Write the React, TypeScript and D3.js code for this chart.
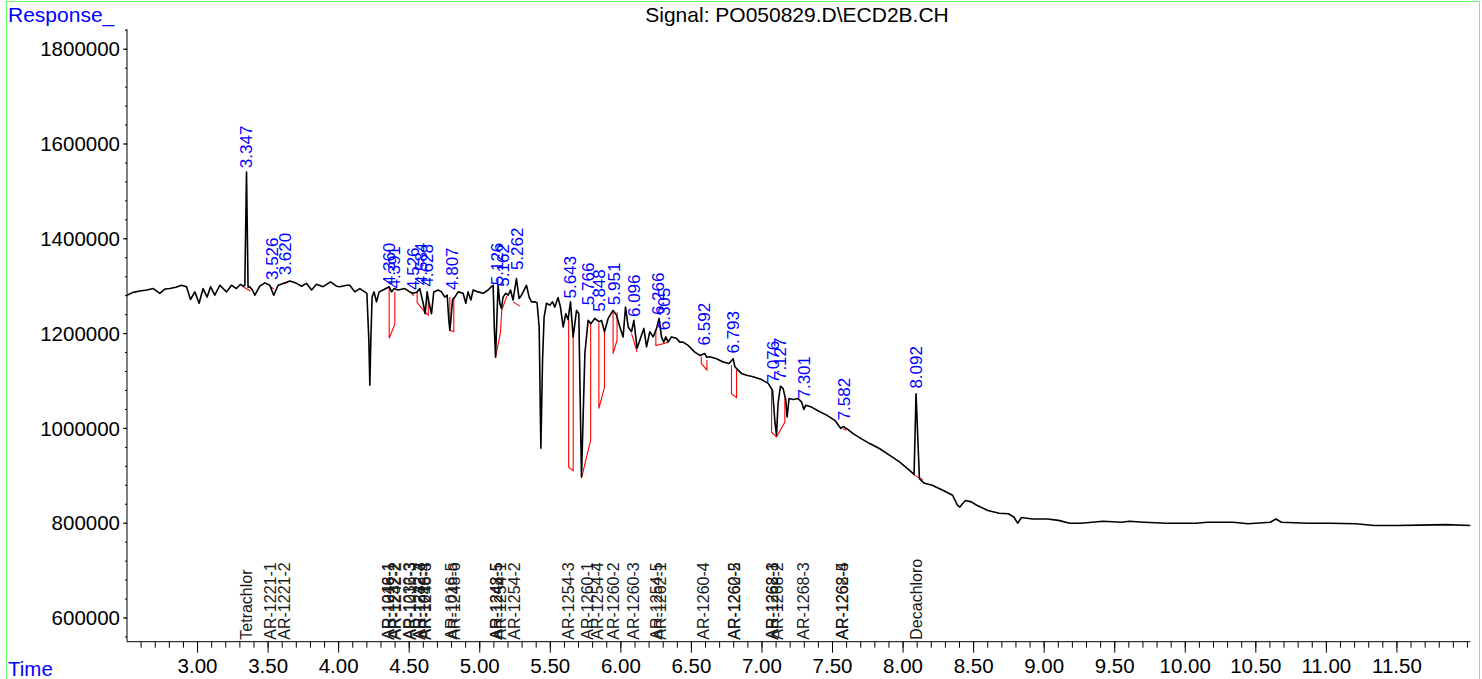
import React from 'react';
import * as d3 from 'd3';

// signal trace (minutes, response)
const traceTime = [
    2.500, 2.543, 2.592, 2.641, 2.686, 2.733, 2.768, 2.804, 2.846, 2.886, 2.922, 2.950, 2.981, 3.011, 3.039,
    3.068, 3.092, 3.122, 3.158, 3.205, 3.241, 3.276, 3.304, 3.323, 3.335, 3.347, 3.358, 3.370, 3.389, 3.406,
    3.441, 3.477, 3.512, 3.540, 3.571, 3.618, 3.654, 3.701, 3.737, 3.772, 3.808, 3.843, 3.890, 3.942, 3.985,
    4.008, 4.056, 4.079, 4.114, 4.150, 4.185, 4.200, 4.214, 4.221, 4.228, 4.237, 4.251, 4.268, 4.287, 4.315,
    4.358, 4.375, 4.393, 4.421, 4.469, 4.504, 4.528, 4.556, 4.575, 4.599, 4.613, 4.627, 4.641, 4.658, 4.674,
    4.705, 4.729, 4.752, 4.769, 4.781, 4.788, 4.795, 4.807, 4.823, 4.847, 4.882, 4.901, 4.917, 4.937, 4.953,
    4.988, 5.024, 5.059, 5.083, 5.095, 5.103, 5.112, 5.121, 5.130, 5.142, 5.154, 5.165, 5.185, 5.201, 5.218,
    5.236, 5.260, 5.279, 5.296, 5.319, 5.331, 5.350, 5.367, 5.390, 5.406, 5.421, 5.433, 5.445, 5.456, 5.473,
    5.496, 5.516, 5.532, 5.555, 5.572, 5.591, 5.610, 5.626, 5.643, 5.662, 5.686, 5.702, 5.721, 5.745, 5.768,
    5.787, 5.815, 5.846, 5.863, 5.884, 5.910, 5.945, 5.969, 5.993, 6.016, 6.033, 6.052, 6.076, 6.092, 6.115,
    6.142, 6.163, 6.182, 6.205, 6.229, 6.253, 6.271, 6.288, 6.304, 6.319, 6.335, 6.359, 6.394, 6.418, 6.441,
    6.477, 6.524, 6.559, 6.595, 6.609, 6.630, 6.678, 6.725, 6.767, 6.796, 6.808, 6.831, 6.855, 6.891, 6.937,
    6.997, 7.044, 7.075, 7.091, 7.103, 7.114, 7.131, 7.150, 7.169, 7.178, 7.192, 7.221, 7.256, 7.280, 7.297,
    7.311, 7.351, 7.410, 7.458, 7.516, 7.559, 7.575, 7.599, 7.646, 7.706, 7.764, 7.835, 7.906, 7.977, 8.048,
    8.078, 8.092, 8.116, 8.147, 8.207, 8.285, 8.351, 8.385, 8.403, 8.421, 8.443, 8.483, 8.522, 8.601, 8.681,
    8.746, 8.785, 8.812, 8.839, 8.917, 9.023, 9.102, 9.181, 9.260, 9.418, 9.549, 9.602, 9.708, 9.866, 10.075,
    10.155, 10.339, 10.445, 10.602, 10.642, 10.682, 10.866, 11.024, 11.208, 11.340, 11.499, 11.665, 11.850, 12.020
];

const traceResp = [
    1281000, 1287000, 1290000, 1292000, 1295000, 1285000, 1294000, 1295000, 1298000, 1302000, 1299000, 1272000, 1288000, 1264000, 1295000,
    1277000, 1299000, 1281000, 1302000, 1288000, 1302000, 1295000, 1304000, 1300000, 1302000, 1541000, 1298000, 1299000, 1292000, 1281000,
    1300000, 1307000, 1302000, 1281000, 1302000, 1307000, 1311000, 1306000, 1300000, 1306000, 1292000, 1304000, 1299000, 1309000, 1300000,
    1299000, 1302000, 1302000, 1288000, 1295000, 1288000, 1285000, 1186000, 1091000, 1186000, 1277000, 1288000, 1267000, 1288000, 1292000,
    1299000, 1288000, 1295000, 1292000, 1295000, 1288000, 1285000, 1288000, 1295000, 1264000, 1242000, 1288000, 1264000, 1242000, 1288000,
    1292000, 1288000, 1277000, 1281000, 1228000, 1207000, 1228000, 1271000, 1277000, 1288000, 1285000, 1264000, 1288000, 1271000, 1292000,
    1288000, 1285000, 1292000, 1299000, 1302000, 1214000, 1150000, 1228000, 1302000, 1264000, 1253000, 1277000, 1285000, 1281000, 1292000,
    1271000, 1316000, 1274000, 1281000, 1295000, 1302000, 1277000, 1267000, 1267000, 1265000, 1214000, 958000, 1144000, 1235000, 1264000,
    1260000, 1267000, 1256000, 1276000, 1256000, 1214000, 1242000, 1230000, 1267000, 1193000, 1249000, 1242000, 897000, 1158000, 1228000,
    1221000, 1232000, 1225000, 1228000, 1204000, 1232000, 1249000, 1239000, 1214000, 1193000, 1256000, 1214000, 1204000, 1228000, 1169000,
    1193000, 1211000, 1172000, 1204000, 1193000, 1211000, 1232000, 1193000, 1182000, 1193000, 1182000, 1193000, 1190000, 1182000, 1182000,
    1175000, 1161000, 1154000, 1158000, 1150000, 1151000, 1147000, 1140000, 1137000, 1147000, 1130000, 1123000, 1116000, 1112000, 1109000,
    1103000, 1095000, 1080000, 1017000, 985000, 1052000, 1089000, 1084000, 1059000, 1024000, 1063000, 1061000, 1063000, 1056000, 1040000,
    1049000, 1045000, 1035000, 1028000, 1017000, 1000000, 1004000, 1000000, 989000, 978000, 968000, 957000, 943000, 929000, 911000,
    903000, 1073000, 894000, 885000, 880000, 869000, 859000, 838000, 834000, 841000, 848000, 845000, 838000, 827000, 821000,
    820000, 813000, 800000, 812000, 809000, 809000, 806000, 800000, 800000, 804000, 802000, 804000, 802000, 800000, 800000,
    802000, 802000, 799000, 802000, 809000, 802000, 800000, 800000, 799000, 795000, 795000, 796000, 797000, 795000
];

// integrated peaks: retention time label and the height where it sits
const peakRT = [3.347, 3.526, 3.620, 4.360, 4.391, 4.526, 4.584, 4.628, 4.807, 5.126, 5.162, 5.262, 5.643,
    5.766, 5.848, 5.951, 6.096, 6.266, 6.305, 6.592, 6.793, 7.076, 7.127, 7.301, 7.582, 8.092];
const peakLabelResp = [1549000, 1313000, 1323000, 1302000, 1295000, 1292000, 1302000, 1299000, 1292000, 1302000,
    1299000, 1334000, 1274000, 1260000, 1246000, 1260000, 1235000, 1239000, 1207000, 1175000, 1158000, 1095000,
    1102000, 1063000, 1017000, 1084000];

// red baseline / drop lines of the integrator
const integrationMarks: [number, number][][] = [
    [[3.323, 1299000], [3.375, 1290000]],
    [[3.512, 1300000], [3.540, 1294000]],
    [[3.604, 1306000], [3.640, 1308000]],
    [[4.358, 1298000], [4.358, 1190000], [4.398, 1220000], [4.398, 1288000]],
    [[4.509, 1288000], [4.533, 1279000]],
    [[4.556, 1287000], [4.556, 1266000], [4.611, 1245000], [4.635, 1239000], [4.635, 1275000]],
    [[4.788, 1277000], [4.788, 1207000], [4.816, 1204000], [4.816, 1277000]],
    [[5.112, 1150000], [5.147, 1203000], [5.156, 1249000], [5.192, 1279000]],
    [[5.236, 1267000], [5.284, 1258000]],
    [[5.630, 1233000], [5.630, 918000], [5.662, 911000], [5.662, 1197000]],
    [[5.724, 899000], [5.786, 975000], [5.786, 1222000]],
    [[5.844, 1222000], [5.844, 1042000], [5.884, 1087000], [5.884, 1207000]],
    [[5.945, 1249000], [5.945, 1158000], [5.973, 1186000], [5.973, 1245000]],
    [[6.076, 1200000], [6.115, 1161000]],
    [[6.248, 1207000], [6.248, 1175000], [6.319, 1180000], [6.347, 1186000]],
    [[6.570, 1151000], [6.570, 1137000], [6.610, 1123000], [6.610, 1145000]],
    [[6.784, 1133000], [6.784, 1073000], [6.820, 1065000], [6.820, 1124000]],
    [[7.068, 1080000], [7.068, 992000], [7.103, 982000], [7.162, 1013000], [7.162, 1063000]],
    [[7.292, 1042000], [7.316, 1049000]],
    [[7.575, 1000000], [7.599, 996000]],
    [[8.071, 903000], [8.138, 892000]]
];

// expected compound windows written along the time axis
const compoundNames = ["Tetrachlor", "AR-1221-1", "AR-1221-2", "AR-1016-1", "AR-1248-1", "AR-1232-2", "AR-1242-2",
    "AR-1232-3", "AR-1016-3", "AR-1242-3", "AR-1232-4", "AR-1016-4", "AR-1248-3", "AR-1016-5", "AR-1248-6",
    "AR-1242-5", "AR-1248-5", "AR-1254-1", "AR-1254-2", "AR-1254-3", "AR-1260-1", "AR-1254-4", "AR-1260-2",
    "AR-1260-3", "AR-1254-5", "AR-1262-1", "AR-1260-4", "AR-1260-5", "AR-1262-2", "AR-1262-3", "AR-1268-1",
    "AR-1268-2", "AR-1268-3", "AR-1262-5", "AR-1268-4", "Decachloro"];
const compoundRT = [3.347, 3.517, 3.618, 4.350, 4.352, 4.398, 4.400, 4.504, 4.506, 4.570, 4.572, 4.611, 4.613,
    4.800, 4.823, 5.119, 5.121, 5.147, 5.248, 5.626, 5.760, 5.836, 5.945, 6.090, 6.250, 6.278, 6.583, 6.803,
    6.805, 7.072, 7.074, 7.107, 7.292, 7.571, 7.573, 8.095];

const xMajor = d3.range(6, 24).map(i => i / 2);
const xMinor = d3.range(26, 121).map(i => i / 10);
const yMajor = d3.range(3, 10).map(i => i * 200000);
const yMinor = d3.range(14, 47).map(i => i * 40000);

const FONT = "'Liberation Sans', Arial, Helvetica, sans-serif";

const App: React.FC = () => {
    const width = 1482;
    const height = 679;

    const plotLeft = 127;
    const plotRight = 1470.3;
    const plotBottom = 641.7;
    const plotTop = 29.3;

    const x = d3.scaleLinear().domain([2.5, 12.02]).range([plotLeft, plotRight]);
    const y = d3.scaleLinear().domain([550000, 1842000]).range([plotBottom, plotTop]);

    const line = d3.line<number>()
        .x((_, i) => x(traceTime[i]))
        .y(d => y(d));

    const markLine = d3.line<[number, number]>()
        .x(d => x(d[0]))
        .y(d => y(d[1]));

    return (
        <svg width={width} height={height} style={{ position: 'absolute', left: 0, top: 0, background: '#fff' }}
            fontFamily={FONT}>
            <rect x={6.5} y={1.5} width={1473} height={700} fill="none" stroke="#66ff66" strokeWidth={1} />

            <text x={8} y={22} fontSize="21px" fill="#0000ff">Response_</text>
            <text x={8} y={676} fontSize="20.5px" fill="#0000ff">Time</text>
            <text x={797} y={22} fontSize="21px" fill="#000" textAnchor="middle">
                {"Signal: PO050829.D\\ECD2B.CH"}
            </text>

            {/* y axis */}
            <line x1={plotLeft} x2={plotLeft} y1={plotTop} y2={plotBottom} stroke="#000" strokeWidth={1} />
            {yMinor.map(v => (
                <line key={'ym' + v} x1={plotLeft - 2} x2={plotLeft} y1={y(v)} y2={y(v)} stroke="#000" />
            ))}
            {yMajor.map(v => (
                <g key={'yM' + v}>
                    <line x1={plotLeft - 4} x2={plotLeft} y1={y(v)} y2={y(v)} stroke="#000" />
                    <text x={120} y={y(v)} dy="0.35em" textAnchor="end" fontSize="20.5px" fill="#000">{v}</text>
                </g>
            ))}

            {/* x axis */}
            <line x1={plotLeft} x2={plotRight} y1={plotBottom} y2={plotBottom} stroke="#000" strokeWidth={1} />
            {xMinor.map(t => (
                <line key={'xm' + t} x1={x(t)} x2={x(t)} y1={plotBottom} y2={plotBottom + 6} stroke="#000" />
            ))}
            {xMajor.map(t => (
                <g key={'xM' + t}>
                    <line x1={x(t)} x2={x(t)} y1={plotBottom} y2={plotBottom + 11} stroke="#000" />
                    <text x={x(t)} y={673} textAnchor="middle" fontSize="20.5px" fill="#000">{t.toFixed(2)}</text>
                </g>
            ))}

            {/* compound names along the axis */}
            {compoundNames.map((name, i) => (
                <text key={'c' + i} transform={`translate(${x(compoundRT[i])},${plotBottom - 2}) rotate(-90)`}
                    dy="0.35em" fontSize="16px" fill="#1a1a1a">{name}</text>
            ))}

            {/* integration marks */}
            {integrationMarks.map((pts, i) => (
                <path key={'m' + i} d={markLine(pts) || ''} fill="none" stroke="#ff0000" strokeWidth={1.1} />
            ))}

            {/* signal */}
            <path d={line(traceResp) || ''} fill="none" stroke="#000" strokeWidth={1.6} strokeLinejoin="round" />

            {/* peak labels */}
            {peakRT.map((rt, i) => (
                <text key={'p' + i} transform={`translate(${x(rt)},${y(peakLabelResp[i])}) rotate(-90)`}
                    dy="0.35em" fontSize="17px" fill="#0000ff">{rt.toFixed(3)}</text>
            ))}
        </svg>
    );
};

export default App;
